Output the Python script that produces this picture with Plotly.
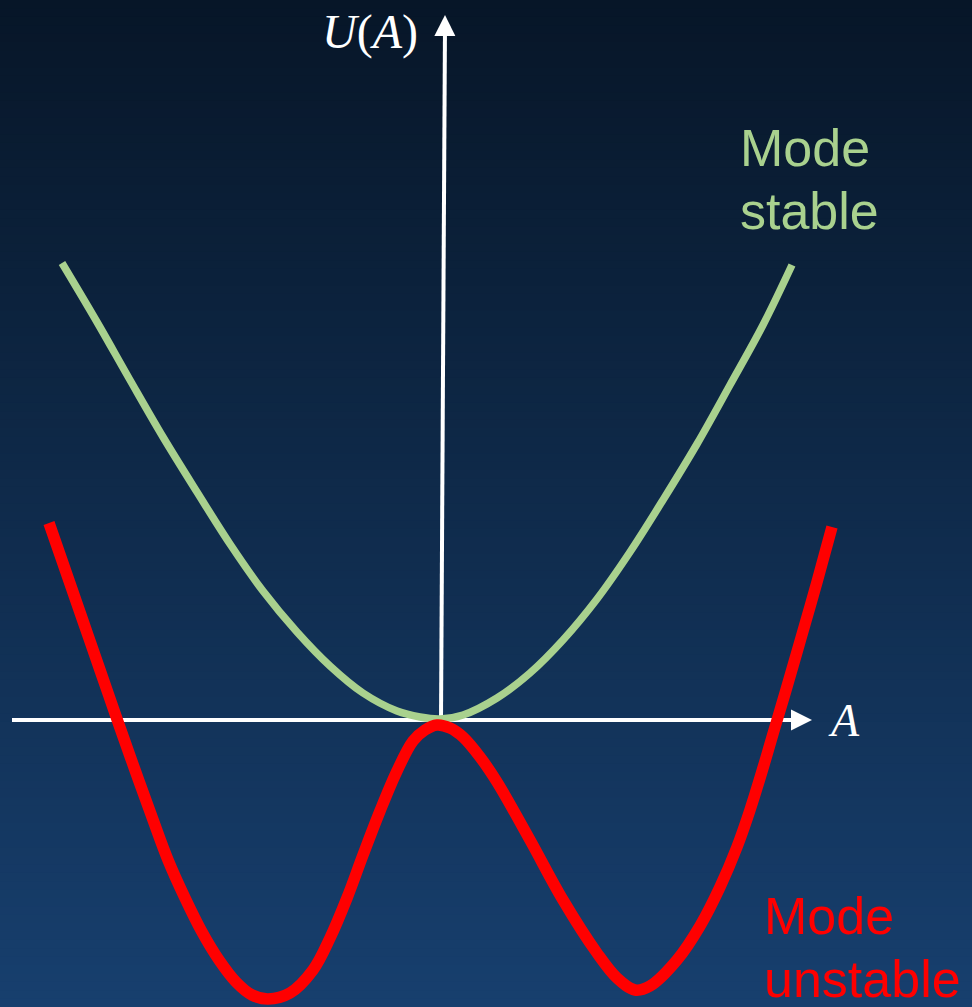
import plotly.graph_objects as go

# Potential U(A) for the stable mode (single well)
stable_A = [-3.78, -3.43, -3.10, -2.77, -2.43, -2.10, -1.77, -1.43, -1.10, -0.77, -0.43, -0.20, 0.0,
            0.23, 0.57, 0.90, 1.23, 1.57, 1.90, 2.23, 2.57, 2.90, 3.23, 3.52]
stable_U = [4.57, 3.98, 3.40, 2.83, 2.28, 1.76, 1.29, 0.88, 0.54, 0.27, 0.09, 0.03, 0.01,
            0.05, 0.22, 0.47, 0.80, 1.21, 1.68, 2.20, 2.76, 3.35, 3.95, 4.55]

# Potential U(A) for the unstable mode (double well)
unstable_A = [-3.91, -3.74, -3.57, -3.40, -3.22, -3.05, -2.88, -2.72, -2.55, -2.38, -2.21, -2.04,
              -1.88, -1.72, -1.50, -1.27, -1.10, -0.93, -0.77, -0.60, -0.43, -0.27, -0.15, -0.03,
              0.10, 0.23, 0.40, 0.57, 0.90, 1.23, 1.57, 1.77, 1.95, 2.10, 2.37, 2.60, 2.80, 2.97,
              3.10, 3.23, 3.35, 3.46, 3.61, 3.77, 3.92]
unstable_U = [1.97, 1.48, 0.99, 0.50, -0.02, -0.50, -0.97, -1.40, -1.78, -2.12, -2.40, -2.62,
              -2.75, -2.79, -2.73, -2.50, -2.18, -1.78, -1.35, -0.91, -0.51, -0.21, -0.10, -0.05,
              -0.08, -0.17, -0.37, -0.62, -1.20, -1.80, -2.33, -2.58, -2.70, -2.66, -2.40, -2.06, -1.67, -1.27,
              -0.90, -0.48, -0.07, 0.30, 0.82, 1.38, 1.93]

# Axis extents (A, U units)
x_axis_start, x_axis_tip = -4.28, 3.72
y_axis_base = (0.01, 0.0)
y_axis_tip = (0.05, 7.05)

X_RANGE = [-4.40, 5.32]
Y_RANGE = [-2.87, 7.20]

GREEN = "#a9d18e"
RED = "#ff0000"
WHITE = "#ffffff"

fig = go.Figure()

fig.add_trace(go.Scatter(x=stable_A, y=stable_U, mode="lines",
                         line=dict(color=GREEN, width=7.5, shape="spline", smoothing=1.0),
                         hoverinfo="skip", showlegend=False))
fig.add_trace(go.Scatter(x=unstable_A, y=unstable_U, mode="lines",
                         line=dict(color=RED, width=11.5, shape="spline", smoothing=1.0),
                         hoverinfo="skip", showlegend=False))

# Vertical background gradient built from thin horizontal bands
top_rgb = (7, 22, 40)
bot_rgb = (23, 63, 110)
n_bands = 120
shapes = []
for i in range(n_bands):
    t = i / (n_bands - 1)
    c = tuple(round(top_rgb[k] + (bot_rgb[k] - top_rgb[k]) * t) for k in range(3))
    y1 = 1 - i / n_bands
    y0 = 1 - (i + 1) / n_bands - 0.002
    shapes.append(dict(type="rect", xref="paper", yref="paper", x0=0, x1=1, y0=max(y0, 0), y1=y1,
                       fillcolor="rgb(%d,%d,%d)" % c, line=dict(width=0), layer="below"))

# Axis lines (under the curves)
shapes.append(dict(type="line", xref="x", yref="y", x0=x_axis_start, x1=x_axis_tip - 0.1, y0=0, y1=0,
                   line=dict(color=WHITE, width=4), layer="below"))
shapes.append(dict(type="line", xref="x", yref="y", x0=y_axis_base[0], x1=y_axis_tip[0],
                   y0=y_axis_base[1], y1=y_axis_tip[1] - 0.1,
                   line=dict(color=WHITE, width=4), layer="below"))

annotations = [
    # arrow heads
    dict(x=x_axis_tip, y=0, ax=x_axis_tip - 0.14, ay=0, xref="x", yref="y", axref="x", ayref="y",
         text="", showarrow=True, arrowhead=2, arrowsize=1.05, arrowwidth=4, arrowcolor=WHITE, standoff=0),
    dict(x=y_axis_tip[0], y=y_axis_tip[1], ax=y_axis_tip[0] - 0.001, ay=y_axis_tip[1] - 0.14,
         xref="x", yref="y", axref="x", ayref="y",
         text="", showarrow=True, arrowhead=2, arrowsize=1.05, arrowwidth=4, arrowcolor=WHITE, standoff=0),
    # axis labels
    dict(x=-0.20, y=6.88, xref="x", yref="y", text="<i>U</i>(<i>A</i>)", showarrow=False,
         xanchor="right", yanchor="middle",
         font=dict(family="Liberation Serif", size=48, color=WHITE)),
    dict(x=3.86, y=0.0, xref="x", yref="y", text="<i>A</i>", showarrow=False,
         xanchor="left", yanchor="middle",
         font=dict(family="Liberation Serif", size=46, color=WHITE)),
    # curve labels
    dict(x=2.98, y=5.72, xref="x", yref="y", text="Mode", showarrow=False,
         xanchor="left", yanchor="middle", font=dict(family="Liberation Sans", size=52, color=GREEN)),
    dict(x=2.98, y=5.09, xref="x", yref="y", text="stable", showarrow=False,
         xanchor="left", yanchor="middle", font=dict(family="Liberation Sans", size=52, color=GREEN)),
    dict(x=3.22, y=-1.96, xref="x", yref="y", text="Mode", showarrow=False,
         xanchor="left", yanchor="middle", font=dict(family="Liberation Sans", size=52, color=RED)),
    dict(x=3.22, y=-2.59, xref="x", yref="y", text="unstable", showarrow=False,
         xanchor="left", yanchor="middle", font=dict(family="Liberation Sans", size=52, color=RED)),
]

fig.update_layout(
    width=972, height=1007, autosize=False,
    margin=dict(l=0, r=0, t=0, b=0, pad=0),
    paper_bgcolor="rgb(7,22,40)", plot_bgcolor="rgba(0,0,0,0)",
    xaxis=dict(range=X_RANGE, visible=False, fixedrange=True),
    yaxis=dict(range=Y_RANGE, visible=False, fixedrange=True),
    shapes=shapes, annotations=annotations,
)

fig.write_html("out.html", config={"displayModeBar": False})
